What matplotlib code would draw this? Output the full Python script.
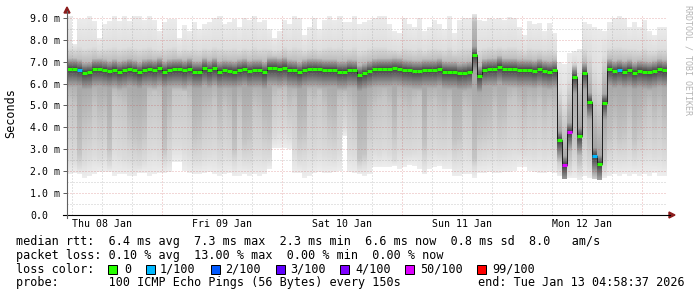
import numpy as np
import matplotlib
matplotlib.use("Agg")
import matplotlib.pyplot as plt
from matplotlib.lines import Line2D
from matplotlib.patches import Polygon, Rectangle
from matplotlib.transforms import IdentityTransform

# ---------------- data ----------------
# time axis: hours since Thu 08 Jan 2026 00:00, one bin per hour
t_start = 5.0
bin_hours = 1.0

median_ms = [
    6.67, 6.67, 6.62, 6.50, 6.52, 6.66, 6.66, 6.62, 6.56, 6.63, 6.55, 6.60,
    6.66, 6.60, 6.52, 6.63, 6.66, 6.62, 6.70, 6.55, 6.63, 6.66, 6.66, 6.60,
    6.68, 6.55, 6.55, 6.70, 6.60, 6.70, 6.55, 6.60, 6.58, 6.55, 6.62, 6.67,
    6.58, 6.62, 6.62, 6.52, 6.72, 6.72, 6.68, 6.73, 6.62, 6.60, 6.52, 6.62,
    6.67, 6.67, 6.65, 6.62, 6.62, 6.62, 6.55, 6.55, 6.62, 6.60, 6.38, 6.47,
    6.57, 6.65, 6.67, 6.67, 6.67, 6.70, 6.68, 6.62, 6.60, 6.57, 6.57, 6.62,
    6.62, 6.62, 6.67, 6.55, 6.54, 6.54, 6.47, 6.50, 6.54, 7.30, 6.35, 6.64,
    6.67, 6.67, 6.78, 6.67, 6.67, 6.67, 6.62, 6.62, 6.62, 6.58, 6.66, 6.58,
    6.55, 6.60, 3.42, 2.28, 3.80, 6.30, 3.60, 6.48, 5.17, 2.69, 2.33, 5.13,
    6.65, 6.56, 6.62, 6.55, 6.62, 6.50, 6.58, 6.55, 6.52, 6.57, 6.65, 6.60,
]

smoke_max = [
    9.10, 7.80, 8.95, 8.95, 9.10, 8.85, 8.10, 8.70, 8.85, 9.10, 8.85, 9.10,
    8.85, 9.10, 9.10, 8.90, 9.10, 8.90, 8.40, 8.80, 8.95, 8.95, 8.10, 8.65,
    8.40, 8.80, 8.50, 8.70, 8.80, 9.00, 9.10, 8.70, 8.80, 8.95, 8.60, 9.00,
    8.90, 9.10, 8.80, 8.90, 8.50, 8.10, 8.40, 8.90, 8.70, 9.10, 9.00, 8.20,
    8.60, 9.00, 8.50, 8.90, 9.10, 8.90, 9.10, 8.80, 8.80, 9.10, 8.70, 8.80,
    8.90, 9.00, 9.10, 9.10, 8.70, 8.40, 8.30, 9.00, 8.70, 8.60, 9.00, 8.40,
    8.60, 8.90, 8.70, 8.50, 9.10, 8.30, 8.90, 9.00, 9.00, 9.20, 8.90, 8.85,
    9.00, 8.95, 9.00, 8.90, 9.05, 9.00, 8.60, 8.20, 8.85, 8.70, 8.75, 8.40,
    8.75, 8.30, 7.00, 6.90, 7.40, 7.50, 7.60, 8.80, 8.70, 8.60, 8.50, 8.40,
    8.80, 9.00, 9.10, 9.00, 8.60, 8.80, 8.60, 8.90, 8.40, 8.20, 8.60, 8.60,
]

smoke_q90 = [
    7.65, 7.60, 7.70, 7.60, 7.65, 7.70, 7.55, 7.60, 7.65, 7.70, 7.60, 7.65,
    7.70, 7.65, 7.60, 7.65, 7.70, 7.60, 7.55, 7.60, 7.65, 7.70, 7.50, 7.60,
    7.55, 7.60, 7.55, 7.65, 7.60, 7.70, 7.65, 7.60, 7.60, 7.65, 7.55, 7.65,
    7.60, 7.70, 7.60, 7.65, 7.60, 7.50, 7.55, 7.70, 7.60, 7.70, 7.65, 7.50,
    7.60, 7.65, 7.55, 7.65, 7.70, 7.65, 7.70, 7.60, 7.60, 7.70, 7.50, 7.55,
    7.65, 7.70, 7.70, 7.70, 7.60, 7.55, 7.50, 7.65, 7.60, 7.55, 7.65, 7.50,
    7.60, 7.65, 7.60, 7.55, 7.70, 7.50, 7.60, 7.65, 7.65, 9.10, 7.60, 7.65,
    7.70, 7.65, 7.70, 7.65, 7.70, 7.70, 7.60, 7.50, 7.65, 7.60, 7.60, 7.55,
    7.60, 7.50, 5.80, 5.20, 6.20, 7.00, 6.60, 7.60, 7.40, 6.80, 6.40, 7.30,
    7.65, 7.70, 7.70, 7.65, 7.60, 7.60, 7.55, 7.65, 7.50, 7.50, 7.60, 7.60,
]

smoke_q75 = [
    7.15, 7.10, 7.10, 7.05, 7.05, 7.15, 7.10, 7.10, 7.05, 7.10, 7.05, 7.10,
    7.15, 7.10, 7.05, 7.10, 7.15, 7.10, 7.15, 7.05, 7.10, 7.15, 7.10, 7.10,
    7.15, 7.05, 7.05, 7.15, 7.10, 7.15, 7.05, 7.10, 7.05, 7.05, 7.10, 7.15,
    7.05, 7.10, 7.10, 7.05, 7.20, 7.15, 7.15, 7.20, 7.10, 7.10, 7.05, 7.10,
    7.15, 7.15, 7.10, 7.10, 7.10, 7.10, 7.05, 7.05, 7.10, 7.10, 6.95, 7.00,
    7.05, 7.10, 7.15, 7.15, 7.15, 7.20, 7.15, 7.10, 7.10, 7.05, 7.05, 7.10,
    7.10, 7.10, 7.15, 7.05, 7.05, 7.05, 7.00, 7.00, 7.05, 8.80, 6.90, 7.10,
    7.15, 7.15, 7.25, 7.15, 7.15, 7.15, 7.10, 7.10, 7.10, 7.05, 7.15, 7.05,
    7.05, 7.10, 4.60, 3.40, 5.00, 6.70, 5.50, 7.00, 6.30, 4.60, 4.00, 6.30,
    7.15, 7.05, 7.10, 7.05, 7.10, 7.00, 7.05, 7.05, 7.00, 7.05, 7.15, 7.10,
]

smoke_q25 = [
    5.2, 5.0, 2.8, 4.0, 4.2, 5.0, 4.4, 4.6, 3.0, 5.4, 5.2, 5.0,
    4.0, 3.6, 3.4, 3.8, 5.4, 5.6, 5.4, 3.0, 4.4, 5.6, 5.6, 5.8,
    5.2, 3.6, 3.8, 4.6, 4.8, 5.2, 4.2, 5.0, 4.6, 3.0, 4.8, 3.4,
    3.6, 5.0, 4.8, 4.0, 3.8, 5.4, 5.6, 5.6, 5.0, 5.2, 3.6, 3.8,
    5.4, 5.2, 5.6, 5.0, 4.2, 4.0, 5.2, 5.4, 5.0, 4.6, 2.6, 2.8,
    4.4, 5.0, 5.2, 5.4, 5.0, 3.8, 5.2, 5.0, 4.8, 5.2, 5.4, 3.2,
    5.0, 5.2, 4.8, 4.6, 5.0, 3.4, 3.6, 5.0, 4.8, 2.6, 3.8, 4.0,
    4.2, 5.0, 4.2, 4.4, 5.2, 5.4, 5.0, 4.6, 5.0, 4.8, 5.2, 4.6,
    5.0, 4.8, 2.6, 2.0, 2.6, 3.4, 2.4, 4.0, 3.2, 2.2, 2.05, 2.6,
    3.6, 4.2, 3.6, 3.8, 4.6, 3.4, 4.0, 4.6, 5.0, 4.4, 4.8, 4.2,
]

smoke_q10 = [
    2.6, 2.5, 2.2, 2.4, 2.6, 2.8, 2.6, 2.7, 2.3, 3.0, 2.8, 2.6,
    2.5, 2.4, 2.3, 2.5, 2.9, 3.0, 2.8, 2.4, 2.6, 3.2, 3.2, 3.0,
    2.8, 2.5, 2.5, 2.7, 2.8, 2.9, 2.6, 2.8, 2.7, 2.4, 2.8, 2.5,
    2.5, 2.8, 2.8, 2.6, 2.6, 3.6, 3.8, 3.8, 3.6, 2.9, 2.5, 2.6,
    2.9, 2.8, 3.0, 2.8, 2.7, 2.6, 2.9, 4.0, 2.9, 2.8, 2.2, 2.3,
    2.7, 2.9, 2.8, 3.0, 2.8, 2.5, 2.9, 2.8, 2.8, 2.9, 3.0, 2.4,
    2.8, 2.9, 2.8, 2.8, 2.9, 2.5, 2.6, 2.9, 2.8, 2.2, 2.6, 2.7,
    2.8, 2.9, 2.7, 2.8, 2.9, 3.0, 2.9, 2.8, 2.9, 2.8, 3.0, 2.8,
    2.9, 2.8, 2.1, 1.85, 2.0, 2.4, 2.0, 2.5, 2.2, 1.9, 1.85, 2.0,
    2.5, 2.7, 2.6, 2.6, 2.8, 2.5, 2.7, 2.8, 2.9, 2.7, 2.8, 2.6,
]

smoke_min = [
    1.85, 1.90, 1.85, 1.70, 1.75, 1.85, 1.95, 1.95, 1.95, 1.80, 1.85, 1.85,
    1.80, 1.75, 1.90, 1.90, 1.80, 1.85, 1.90, 1.90, 1.95, 2.40, 2.40, 2.00,
    1.90, 1.85, 1.85, 1.90, 1.95, 1.85, 1.80, 1.85, 1.90, 1.75, 1.80, 1.85,
    1.80, 1.85, 1.80, 1.85, 2.10, 3.05, 3.05, 3.05, 3.00, 1.90, 1.90, 1.70,
    1.75, 1.90, 1.95, 1.90, 1.90, 1.95, 2.00, 3.60, 1.95, 1.90, 1.85, 1.80,
    1.85, 2.20, 2.20, 2.20, 2.20, 2.25, 2.10, 2.20, 2.30, 2.25, 2.10, 1.85,
    2.10, 2.20, 2.25, 2.10, 2.10, 1.80, 1.80, 1.85, 1.85, 1.70, 1.90, 1.90,
    1.95, 1.90, 1.90, 1.95, 1.95, 2.00, 2.20, 2.20, 2.00, 1.95, 1.90, 1.90,
    1.95, 1.90, 1.75, 1.65, 1.70, 1.70, 1.60, 1.75, 1.70, 1.65, 1.60, 1.70,
    1.75, 1.85, 1.80, 1.85, 1.80, 1.85, 1.80, 1.85, 1.80, 1.90, 1.80, 1.80,
]

loss_pct = [
    0, 0, 1, 0, 0, 0, 0, 0, 0, 0, 0, 0,
    0, 0, 0, 0, 0, 0, 0, 0, 0, 0, 0, 0,
    0, 0, 0, 0, 0, 0, 0, 0, 0, 0, 0, 0,
    0, 0, 0, 0, 0, 0, 0, 0, 0, 0, 0, 0,
    0, 0, 0, 0, 0, 0, 0, 0, 0, 0, 0, 0,
    0, 0, 0, 0, 0, 0, 0, 0, 0, 0, 0, 0,
    0, 0, 0, 0, 0, 0, 0, 0, 0, 0, 0, 0,
    0, 0, 0, 0, 0, 0, 0, 0, 0, 0, 0, 0,
    0, 0, 0, 13, 10, 0, 0, 0, 0, 1, 0, 0,
    0, 0, 1, 0, 0, 0, 0, 0, 0, 0, 0, 0,
]

loss_levels = [0, 1, 2, 3, 4, 50, 99]
loss_labels = ["0", "1/100", "2/100", "3/100", "4/100", "50/100", "99/100"]
loss_colors = ["#26ff00", "#00b8ff", "#0059ff", "#5e00ff", "#7e00ff", "#dd00ff", "#ff0000"]

day_labels = ["Thu 08 Jan", "Fri 09 Jan", "Sat 10 Jan", "Sun 11 Jan", "Mon 12 Jan"]
day_label_hours = [12, 36, 60, 84, 108]

y_ticks = [0, 1, 2, 3, 4, 5, 6, 7, 8, 9]
y_tick_labels = ["0.0", "1.0 m", "2.0 m", "3.0 m", "4.0 m", "5.0 m",
                 "6.0 m", "7.0 m", "8.0 m", "9.0 m"]

legend_rtt = "median rtt:  6.4 ms avg  7.3 ms max  2.3 ms min  6.6 ms now  0.8 ms sd  8.0   am/s"
legend_loss = "packet loss: 0.10 % avg  13.00 % max  0.00 % min  0.00 % now"
legend_color = "loss color:"
legend_probe = "probe:       100 ICMP Echo Pings (56 Bytes) every 150s"
legend_end = "end: Tue Jan 13 04:58:37 2026"

# ---------------- figure ----------------
W, H = 697, 297
MONO = "DejaVu Sans Mono"
fig = plt.figure(figsize=(W / 100, H / 100), dpi=100)
fig.patch.set_facecolor("white")

PX_L, PX_R = 67, 667
PX_B, PX_T = 215, 13.5
ax = fig.add_axes([PX_L / W, (H - PX_B) / H, (PX_R - PX_L) / W, (PX_B - PX_T) / H])
ax.set_facecolor("white")
n = len(median_ms)
edges = t_start + np.arange(n + 1) * bin_hours
ax.set_xlim(edges[0], edges[-1])
ax.set_ylim(0, 9.2)
for s in ax.spines.values():
    s.set_visible(False)

# smoke (gray density shading per time bin)
vgrid = np.linspace(0, 9.2, 461)
vc = 0.5 * (vgrid[:-1] + vgrid[1:])
L = np.ones((len(vc), n))
shade_knots = [0.93, 0.86, 0.77, 0.62, 0.74, 0.87, 0.92]
for i in range(n):
    knots = [smoke_min[i], smoke_q10[i], smoke_q25[i], median_ms[i],
             smoke_q75[i], smoke_q90[i], smoke_max[i]]
    quant = np.interp(vc, knots, shade_knots)
    d = vc - median_ms[i]
    core = np.where(d >= 0, 0.25 + d / 0.75 * 0.75, 0.25 - d / 1.4 * 0.75)
    col = np.minimum(quant, core)
    col[(vc < smoke_min[i]) | (vc > smoke_max[i])] = 1.0
    L[:, i] = np.clip(col, 0, 1)
ax.pcolormesh(edges, vgrid, L, cmap="gray", vmin=0, vmax=1, shading="flat", zorder=1)

# grid (drawn over the smoke, as rrdtool does)
minor_c, major_c = "#8c8c8c", "#c03030"
for v in np.arange(0.5, 9.2, 0.5):
    is_major = abs(v - round(v)) < 1e-6
    ax.axhline(v, color=major_c if is_major else minor_c, alpha=0.38 if is_major else 0.45,
               lw=0.72, ls=(0, (1, 2)), zorder=2)
for h in np.arange(6, 125, 6):
    is_major = h % 24 == 0
    ax.axvline(h, color=major_c if is_major else minor_c, alpha=0.38 if is_major else 0.45,
               lw=0.72, ls=(0, (1, 2)), zorder=2)

# median line + loss coloured segments
ax.stairs(median_ms, edges, baseline=None, color="#202020", lw=0.72, zorder=3)

def loss_color(p):
    prev = -1
    for lev, c in zip(loss_levels, loss_colors):
        if prev < p <= lev:
            return c
        prev = lev
    return loss_colors[-1]

seg_colors = [loss_color(p) for p in loss_pct]
ax.hlines(median_ms, edges[:-1], edges[1:], colors=seg_colors, lw=2.2, zorder=4)

# ticks
ax.set_yticks(y_ticks)
ax.set_yticklabels(y_tick_labels, fontsize=7.1, family=MONO)
ax.tick_params(axis="y", length=2.9, width=0.72, color="#606060", pad=23.8)
for lab in ax.get_yticklabels():
    lab.set_horizontalalignment("left")
ax.set_xticks(day_label_hours)
ax.set_xticklabels(day_labels, fontsize=7.1, family=MONO)
ax.tick_params(axis="x", length=0, pad=3.2)

# axis lines and arrows (figure pixel coordinates)
ident = IdentityTransform()
fig.add_artist(Line2D([63, 670], [H - 215, H - 215], color="black", lw=0.8, transform=ident))
fig.add_artist(Line2D([67, 67], [H - 218, H - 11], color="#606060", lw=0.8, transform=ident))
arrow_c = "#8b1c1c"
fig.add_artist(Polygon([[64, H - 13], [70, H - 13], [67, H - 7]], closed=True,
                       color=arrow_c, transform=ident))
fig.add_artist(Polygon([[669, H - 212], [669, H - 218], [675, H - 215]], closed=True,
                       color=arrow_c, transform=ident))

# y label and watermark
fig.text(10.5 / W, 1 - 113.5 / H, "Seconds", rotation=90, ha="center", va="center",
         fontsize=8.5, family=MONO)
fig.text(688 / W, 1 - 5 / H, "RRDTOOL / TOBI OETIKER", rotation=-90, ha="center", va="top",
         fontsize=6, family=MONO, color="#b4b4b4")

# legend
LF = 8.5
fig.text(16 / W, 1 - 241.5 / H, legend_rtt, ha="left", va="center", fontsize=LF, family=MONO)
fig.text(16 / W, 1 - 255.3 / H, legend_loss, ha="left", va="center", fontsize=LF, family=MONO)
fig.text(16 / W, 1 - 269.3 / H, legend_color, ha="left", va="center", fontsize=LF, family=MONO)
fig.text(16 / W, 1 - 282.7 / H, legend_probe, ha="left", va="center", fontsize=LF, family=MONO)
fig.text(478 / W, 1 - 282.7 / H, legend_end, ha="left", va="center", fontsize=LF, family=MONO)

sq_x = [108, 146, 211, 276, 340, 405, 477]
lab_x = [124, 160, 225, 290, 355, 420, 492]
for sx, lx, c, lab in zip(sq_x, lab_x, loss_colors, loss_labels):
    fig.add_artist(Rectangle((sx, H - 274), 9, 9, facecolor=c, edgecolor="black",
                             lw=0.72, transform=ident))
    fig.text(lx / W, 1 - 269.3 / H, lab, ha="left", va="center", fontsize=LF, family=MONO)

fig.savefig("out.png", dpi=100, facecolor="white")
